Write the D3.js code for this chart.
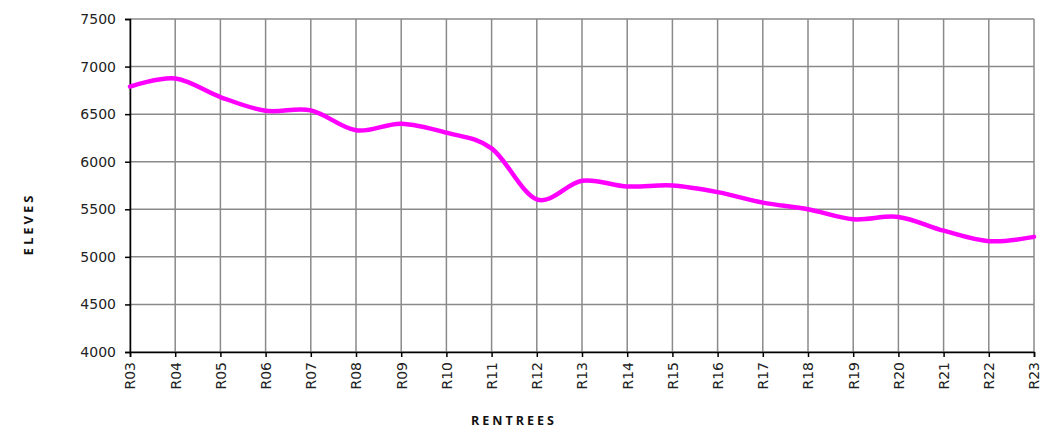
<!DOCTYPE html>
<html>
<head>
<meta charset="utf-8">
<script src="https://cdn.jsdelivr.net/npm/d3@7"></script>
<style>
body { margin: 0; background: #fff; }
</style>
</head>
<body>
<div id="chart"></div>
<script>
// rentrees (school years) and number of pupils
var rentrees = ["R03","R04","R05","R06","R07","R08","R09","R10","R11","R12","R13",
  "R14","R15","R16","R17","R18","R19","R20","R21","R22","R23"];
var eleves = [6790, 6875, 6680, 6535, 6540, 6330, 6400, 6305, 6140, 5605, 5800,
  5740, 5750, 5680, 5570, 5500, 5395, 5420, 5275, 5165, 5210];
var yTicks = [4000, 4500, 5000, 5500, 6000, 6500, 7000, 7500];

const W = 1041, H = 433;
const margin = {top: 19, right: 7, bottom: 81, left: 130};
var width = W - margin.left - margin.right,
    height = H - margin.top - margin.bottom;

var svg = d3.select("#chart").append("svg")
  .attr("width", W).attr("height", H);

var g = svg.append("g")
  .attr("transform", "translate(" + margin.left + "," + margin.top + ")");

var x = d3.scalePoint().domain(rentrees).range([0, width]);
var y = d3.scaleLinear().domain([4000, 7500]).range([height, 0]);

// grid
g.append("g").selectAll("line").data(yTicks).enter().append("line")
  .attr("x1", 0).attr("x2", width)
  .attr("y1", d => y(d)).attr("y2", d => y(d))
  .attr("stroke", "#8a8a8a").attr("stroke-width", 1.5);
g.append("g").selectAll("line").data(rentrees).enter().append("line")
  .attr("x1", d => x(d)).attr("x2", d => x(d))
  .attr("y1", 0).attr("y2", height)
  .attr("stroke", "#8a8a8a").attr("stroke-width", 1.5);

// axes
var yAxis = g.append("g")
  .call(d3.axisLeft(y).tickValues(yTicks).tickFormat(d3.format("d")).tickSize(5).tickPadding(9));
var xAxis = g.append("g")
  .attr("transform", "translate(0," + height + ")")
  .call(d3.axisBottom(x).tickSize(5).tickPadding(0));

[yAxis, xAxis].forEach(a => {
  a.attr("font-family", "DejaVu Sans").attr("font-size", 14);
  a.select(".domain").attr("stroke", "#000").attr("stroke-width", 1.5);
  a.selectAll(".tick line").attr("stroke", "#000").attr("stroke-width", 1.5);
  a.selectAll("text").attr("fill", "#222");
});

xAxis.selectAll("text")
  .attr("transform", "rotate(-90)")
  .attr("text-anchor", "end")
  .attr("x", -10).attr("y", 0).attr("dy", "0.35em");

// line
var line = d3.line()
  .x((d, i) => x(rentrees[i]))
  .y(d => y(d))
  .curve(d3.curveCardinal.tension(0));

g.append("path")
  .datum(eleves)
  .attr("d", line)
  .attr("fill", "none")
  .attr("stroke", "#ff00ff")
  .attr("stroke-width", 4.5)
  .attr("stroke-linecap", "round");

// axis titles
svg.append("text")
  .attr("transform", "translate(33,224) rotate(-90)")
  .attr("text-anchor", "middle")
  .attr("font-family", "Open Sans").attr("font-weight", "bold")
  .attr("font-size", 13).attr("letter-spacing", "3px").attr("fill", "#111")
  .text("ELEVES");

svg.append("text")
  .attr("x", 514).attr("y", 425)
  .attr("text-anchor", "middle")
  .attr("font-family", "Open Sans").attr("font-weight", "bold")
  .attr("font-size", 12.5).attr("letter-spacing", "3px").attr("fill", "#111")
  .text("RENTREES");
</script>
</body>
</html>
